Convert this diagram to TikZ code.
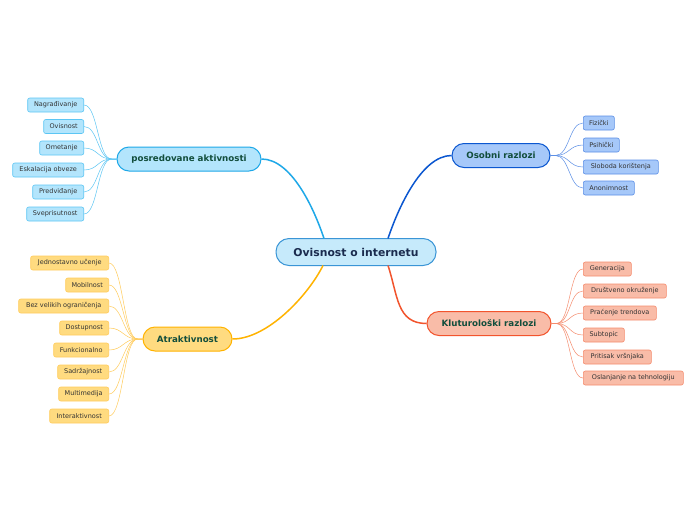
\documentclass[tikz,border=0pt]{standalone}
\usepackage{fontspec}
\setmainfont{DejaVu Sans}
\definecolor{cFill}{HTML}{C6EAFB}\definecolor{cDraw}{HTML}{3A95D6}\definecolor{cText}{HTML}{1A2B4E}
\definecolor{bFill}{HTML}{B3E5FC}\definecolor{bDraw}{HTML}{1EA8E8}\definecolor{bLeaf}{HTML}{5CC6F4}
\definecolor{dFill}{HTML}{A6C8F9}\definecolor{dDraw}{HTML}{0B57D0}\definecolor{dLeaf}{HTML}{5C8FE6}
\definecolor{rFill}{HTML}{F9BCA8}\definecolor{rDraw}{HTML}{F2542D}\definecolor{rLeaf}{HTML}{F58C6E}
\definecolor{yFill}{HTML}{FFDB80}\definecolor{yDraw}{HTML}{FFB300}\definecolor{yLeaf}{HTML}{FFCC5C}
\definecolor{mText}{HTML}{124E3C}\definecolor{lText}{HTML}{333333}
\tikzset{
  mainnode/.style={rounded corners=12pt, minimum height=24pt, inner sep=0pt, line width=1pt, text=mText, font=\fontsize{8.7}{10}\selectfont\bfseries},
  leaf/.style={rounded corners=2pt, minimum height=14pt, inner sep=0pt, line width=0.6pt, text=lText, font=\fontsize{6.5}{7.5}\selectfont},
  mainline/.style={line width=1.5pt},
  leafline/.style={line width=0.5pt},
}
\begin{document}
\begin{tikzpicture}[x=1pt,y=-1pt]
\useasboundingbox[fill=white] (0,0) rectangle (696,520);
% central
\node[mainnode, fill=cFill, draw=cDraw, text=cText, minimum width=160pt, minimum height=27pt, rounded corners=13pt, font=\fontsize{10.8}{12}\selectfont\bfseries] (c) at (356,252) {Ovisnost o internetu};
% main nodes
\node[mainnode, fill=bFill, draw=bDraw, minimum width=144pt] (p) at (189,159) {posredovane aktivnosti};
\node[mainnode, fill=dFill, draw=dDraw, minimum width=98pt] (o) at (501,155.5) {Osobni razlozi};
\node[mainnode, fill=rFill, draw=rDraw, minimum width=124pt] (k) at (489,323.5) {Kluturološki razlozi};
\node[mainnode, fill=yFill, draw=yDraw, minimum width=89pt] (a) at (187.5,339) {Atraktivnost};
% main connectors
\coordinate (cp) at (324,238.5);
\coordinate (co) at (388,238.5);
\coordinate (ca) at (323,265.5);
\coordinate (ck) at (388,265.5);
\draw[mainline, bDraw] (p.east) .. controls +(30,0) and +(-10,-30) .. (cp);
\draw[mainline, dDraw] (o.west) .. controls +(-30,0) and +(10,-30) .. (co);
\draw[mainline, yDraw] (a.east) .. controls +(35,0) and +(-15,30) .. (ca);
\draw[mainline, rDraw] (k.west) .. controls +(-30,0) and +(10,30) .. (ck);
% left blue leaves
\foreach \n/\t/\w/\y in {b1/Nagrađivanje/56/105, b2/Ovisnost/40/126.5, b3/Ometanje/44/148, b4/Eskalacija obveze/71/170, b5/Predviđanje/51/192, b6/Sveprisutnost/57/214}{
  \node[leaf, fill=bFill, draw=bLeaf, minimum width=\w pt, anchor=east] (\n) at (84,\y) {\t};
  \draw[leafline, bLeaf] (p.west) -- ++(-5,0) .. controls +(-14,0) and +(14,0) .. (\n.east);
}
% left yellow leaves
\foreach \n/\t/\w/\y in {y1/Jednostavno učenje/78/263, y2/Mobilnost/43/285, y3/Bez velikih ograničenja/90/306, y4/Dostupnost/49/328, y5/Funkcionalno/55/350, y6/Sadržajnost/51/372, y7/Multimedija/50/394, y8/Interaktivnost/59/416}{
  \node[leaf, fill=yFill, draw=yLeaf, minimum width=\w pt, anchor=east] (\n) at (109,\y) {\t};
  \draw[leafline, yLeaf] (a.west) -- ++(-5,0) .. controls +(-14,0) and +(14,0) .. (\n.east);
}
% right dark blue leaves
\foreach \n/\t/\w/\y in {d1/Fizički/31/123, d2/Psihički/36/145, d3/Sloboda korištenja/75/167, d4/Anonimnost/51/188}{
  \node[leaf, fill=dFill, draw=dLeaf, minimum width=\w pt, anchor=west] (\n) at (583,\y) {\t};
  \draw[leafline, dLeaf] (o.east) -- ++(5,0) .. controls +(14,0) and +(-14,0) .. (\n.west);
}
% right red leaves
\foreach \n/\t/\w/\y in {r1/Generacija/48/269, r2/Društveno okruženje/83/291, r3/Praćenje trendova/73/313, r4/Subtopic/41/335, r5/Pritisak vršnjaka/68/357, r6/Oslanjanje na tehnologiju/100/378}{
  \node[leaf, fill=rFill, draw=rLeaf, minimum width=\w pt, anchor=west] (\n) at (583,\y) {\t};
  \draw[leafline, rLeaf] (k.east) -- ++(5,0) .. controls +(14,0) and +(-14,0) .. (\n.west);
}
\end{tikzpicture}
\end{document}
